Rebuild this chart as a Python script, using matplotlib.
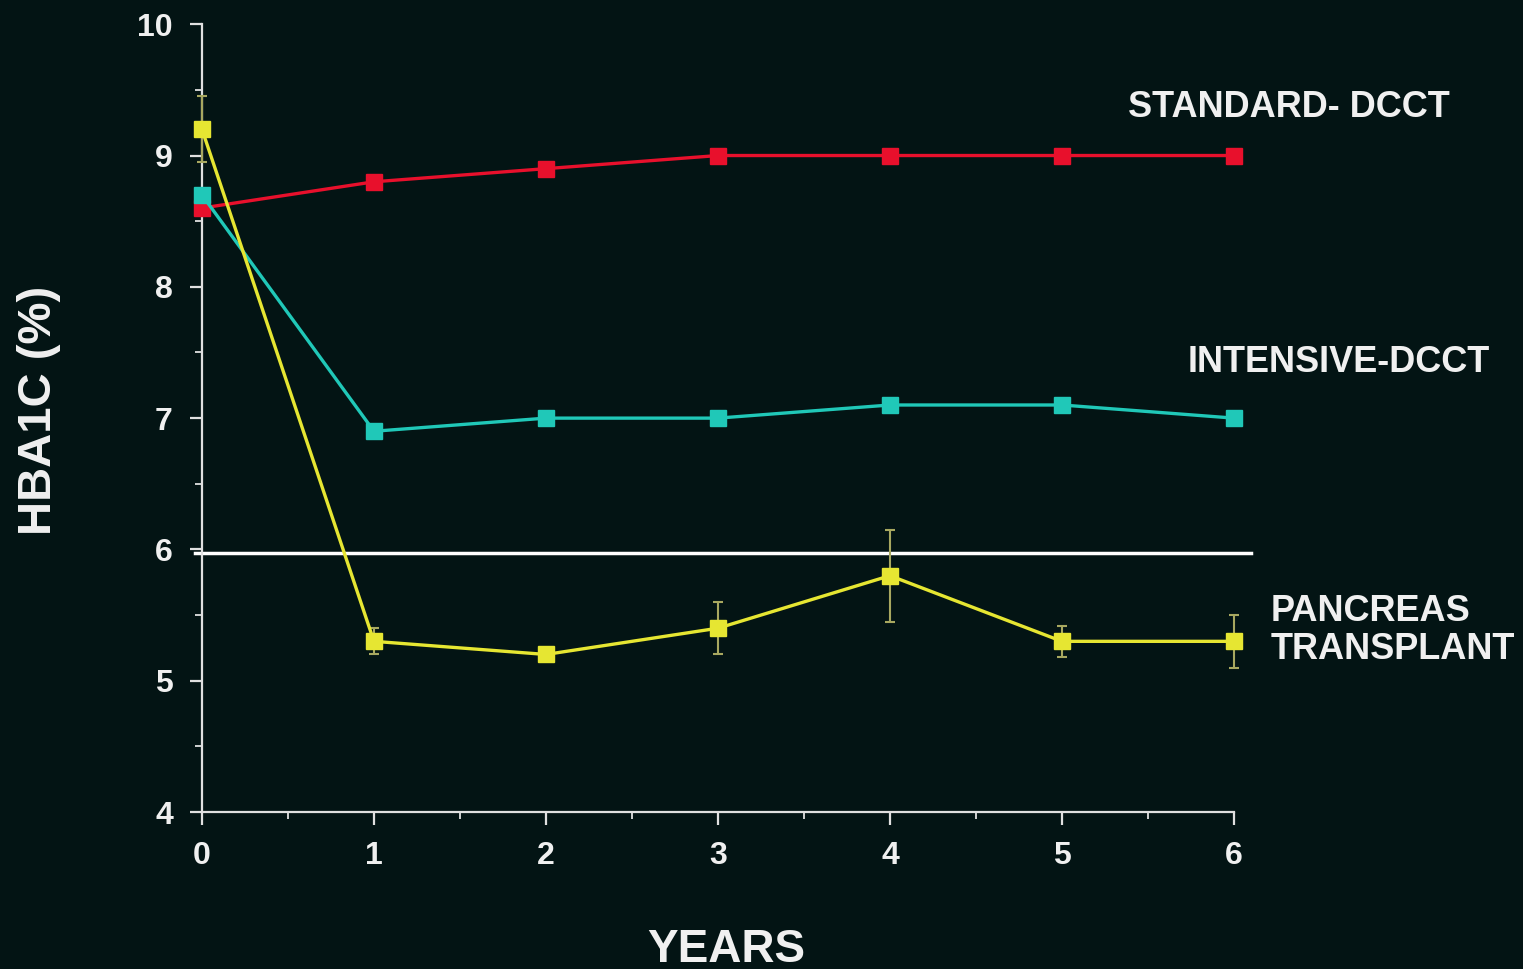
import matplotlib
matplotlib.use("Agg")
import matplotlib.pyplot as plt
from matplotlib.ticker import MultipleLocator

years = [0, 1, 2, 3, 4, 5, 6]
standard = [8.6, 8.8, 8.9, 9.0, 9.0, 9.0, 9.0]
intensive = [8.7, 6.9, 7.0, 7.0, 7.1, 7.1, 7.0]
pancreas = [9.2, 5.3, 5.2, 5.4, 5.8, 5.3, 5.3]
pancreas_err = [0.25, 0.1, 0.04, 0.2, 0.35, 0.12, 0.2]
normal_limit = 5.97

bg = "#031414"
plt.rcParams['font.family'] = ['Liberation Sans', 'DejaVu Sans']

fig = plt.figure(figsize=(15.23, 9.69), dpi=100, facecolor=bg)
ax = fig.add_axes([0.1326, 0.162, 0.6776, 0.813], facecolor=bg)

ax.plot(years, standard, color="#e8102c", lw=2.4, marker="s", ms=11, zorder=3, clip_on=False)
ax.plot(years, intensive, color="#20c8b8", lw=2.4, marker="s", ms=11, zorder=3, clip_on=False)
eb = ax.errorbar(years, pancreas, yerr=pancreas_err, color="#e6e632", lw=2.4, marker="s",
                 ms=11, ecolor="#a8a860", elinewidth=1.5, capsize=3.5, capthick=1.5, zorder=4)
for art in eb.lines[0:1] + tuple(eb.lines[1]) + tuple(eb.lines[2]):
    art.set_clip_on(False)
ax.plot([-0.04, 6.1], [normal_limit, normal_limit], color="white", lw=2.5,
        clip_on=False, zorder=2)

ax.set_xlim(0, 6)
ax.set_ylim(4, 10)
ax.xaxis.set_major_locator(MultipleLocator(1))
ax.xaxis.set_minor_locator(MultipleLocator(0.5))
ax.yaxis.set_major_locator(MultipleLocator(1))
ax.yaxis.set_minor_locator(MultipleLocator(0.5))

for s in ["top", "right"]:
    ax.spines[s].set_visible(False)
for s in ["left", "bottom"]:
    ax.spines[s].set_color("#e0e0e0")
    ax.spines[s].set_linewidth(1.6)

ax.tick_params(which="major", direction="out", length=9, width=1.6, color="#e0e0e0",
               labelcolor="#f0f0f0", labelsize=23)
ax.tick_params(which="minor", direction="out", length=5, width=1.3, color="#e0e0e0")
ax.tick_params(axis="x", which="major", pad=12)
ax.tick_params(axis="y", which="major", pad=12)
for lab in ax.get_xticklabels() + ax.get_yticklabels():
    lab.set_fontweight("bold")

ax.set_xlabel("YEARS", color="#f0f0f0", fontsize=33, fontweight="bold")
ax.xaxis.set_label_coords(0.508, -0.147)
ax.set_ylabel("HBA1C (%)", color="#f0f0f0", fontsize=34, fontweight="bold")
ax.yaxis.set_label_coords(-0.137, 0.51)

txt = dict(color="#f0f0f0", fontsize=26, fontweight="bold", va="center", ha="left",
           clip_on=False)
ax.text(5.384, 9.368, "STANDARD- DCCT", **txt)
ax.text(5.733, 7.426, "INTENSIVE-DCCT", **txt)
ax.text(6.215, 5.38, "PANCREAS\nTRANSPLANT", linespacing=1.1, **txt)

fig.savefig("out.png", dpi=100, facecolor=bg)
